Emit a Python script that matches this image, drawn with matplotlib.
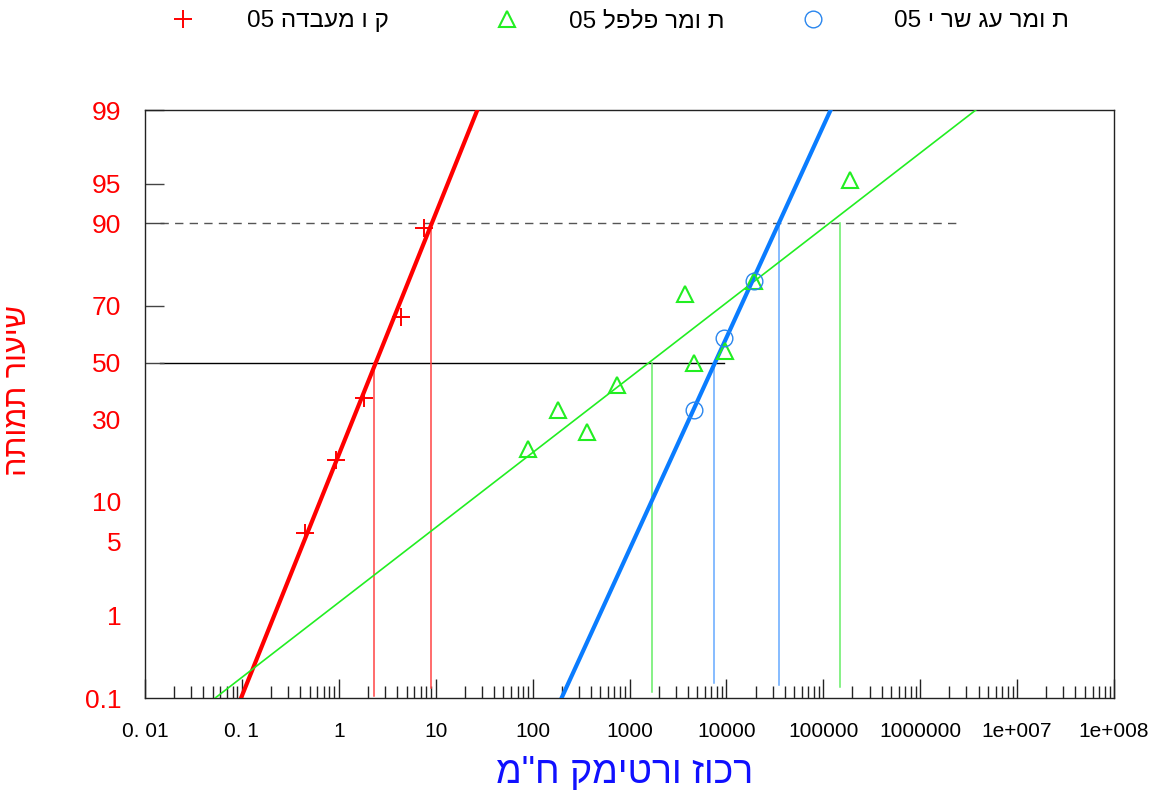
import re
from statistics import NormalDist

import numpy as np
import matplotlib
matplotlib.use("Agg")
import matplotlib.pyplot as plt
from matplotlib.ticker import NullFormatter, NullLocator, LogLocator

plt.rcParams['font.family'] = ['Liberation Sans', 'DejaVu Sans']

# ---- data ----
# lab line (red +)
lab_conc = [0.45, 0.93, 1.8, 4.4, 7.6]
lab_mort = [5.8, 18.4, 37.3, 66.2, 89.3]
# pepper field (green triangles)
pepper_conc = [90.6, 185, 368, 735, 3700, 4580, 9570, 19100, 187500]
pepper_mort = [21.3, 33.2, 26.1, 41.9, 73.6, 50.0, 54.4, 77.4, 95.4]
# field 2 (blue circles)
field_conc = [4580, 9350, 19100]
field_mort = [33.2, 58.8, 77.4]

# fitted probit lines: concentration at 0.1 % and at 99 %
lab_fit = [0.098, 26.9]
pepper_fit = [0.053, 3.75e6]
field_fit = [199, 119000]
fit_range = [0.1, 99]

# LC50 / LC90 drop lines and where they stop at the bottom (%)
lab_lc = [2.32, 9.0]
lab_lc_bottom = [0.108, 0.134]
pepper_lc = [1690, 147600]
pepper_lc_bottom = [0.122, 0.139]
field_lc = [7380, 34600]
field_lc_bottom = [0.16, 0.15]

ref_lines_x = [0.0143, 2.63e6]   # 90 % dashed guide
half_line_x = [0.0143, 9350]     # 50 % guide

labels = ["ק ו מעבדה 05", "ת ומר פלפל 05", "ת ומר עג שר י 05"]
xlabel = 'רכוז ורטימק ח"מ'
ylabel = "שיעור תמותה"

xticks = [0.01, 0.1, 1, 10, 100, 1000, 1e4, 1e5, 1e6, 1e7, 1e8]
xticklabels = ["0. 01", "0. 1", "1", "10", "100", "1000", "10000", "100000",
               "1000000", "1e+007", "1e+008"]
yticks = [0.1, 1, 5, 10, 30, 50, 70, 90, 95, 99]
yticklabels = ["0.1", "1", "5", "10", "30", "50", "70", "90", "95", "99"]


def visual(s):
    # no bidi in matplotlib: flip the order, keep digit runs as they are
    parts = re.findall(r"\d+|\D", s)
    return "".join(parts[::-1])


nd = NormalDist()
_ppf = np.vectorize(lambda v: nd.inv_cdf(v / 100.0), otypes=[float])
_cdf = np.vectorize(lambda v: 100.0 * nd.cdf(v), otypes=[float])


def prob_fwd(p):
    p = np.clip(np.asarray(p, dtype=float), 1e-6, 100 - 1e-6)
    return _ppf(p)


def prob_inv(z):
    return _cdf(np.asarray(z, dtype=float))


fig = plt.figure(figsize=(11.58, 7.94), dpi=100)
ax = fig.add_axes([145 / 1158, 1 - 698 / 794, (1114 - 145) / 1158, (698 - 110) / 794])
ax.set_xscale("log")
ax.set_yscale("function", functions=(prob_fwd, prob_inv))
ax.set_xlim(0.01, 1e8)
ax.set_ylim(0.1, 99)

# guide lines
ax.plot(ref_lines_x, [90, 90], ls=(0, (6, 4.5)), color="#555555", lw=1, zorder=1)
ax.plot(half_line_x, [50, 50], color="black", lw=1, zorder=1)

for lc, bot, col in [(lab_lc, lab_lc_bottom, "#ff4444"),
                     (pepper_lc, pepper_lc_bottom, "#66ee66"),
                     (field_lc, field_lc_bottom, "#66aaff")]:
    ax.plot([lc[0], lc[0]], [bot[0], 50], color=col, lw=1.1, zorder=2)
    ax.plot([lc[1], lc[1]], [bot[1], 90], color=col, lw=1.1, zorder=2)

# fitted lines
ax.plot(lab_fit, fit_range, color="#ff0000", lw=3, zorder=3)
ax.plot(pepper_fit, fit_range, color="#22ee22", lw=1.2, zorder=3)
ax.plot(field_fit, fit_range, color="#0a7cff", lw=3, zorder=3)

# observations
h1, = ax.plot(lab_conc, lab_mort, ls="none", marker="+", ms=13, mew=1.4,
              color="#ff0000", zorder=4)
h2, = ax.plot(pepper_conc, pepper_mort, ls="none", marker="^", ms=12, mew=1.5,
              mfc="none", mec="#22ee22", zorder=4)
h3, = ax.plot(field_conc, field_mort, ls="none", marker="o", ms=12, mew=1.0,
              mfc="none", mec="#2a86ee", zorder=4)

ax.set_xticks(xticks, xticklabels)
ax.xaxis.set_minor_locator(LogLocator(base=10, subs=np.arange(2, 10), numticks=100))
ax.xaxis.set_minor_formatter(NullFormatter())
ax.set_yticks(yticks, yticklabels)
ax.yaxis.set_minor_locator(NullLocator())
# only the upper probability ticks carry a mark
for t, v in zip(ax.yaxis.get_major_ticks(), yticks):
    if v < 50:
        t.tick1line.set_visible(False)

ax.tick_params(axis="x", which="major", direction="in", length=14, width=1,
               labelsize=15, pad=17.5, colors="#222222", labelcolor="black")
ax.tick_params(axis="x", which="minor", direction="in", length=9, width=1,
               colors="#222222")
ax.tick_params(axis="y", which="major", direction="in", length=14, width=1,
               labelsize=19, pad=17, colors="#444444", labelcolor="#ff0000")
for sp in ax.spines.values():
    sp.set_linewidth(1)
    sp.set_color("#222222")

fig.text(625 / 1158, 1 - 773 / 794, visual(xlabel), fontsize=27, color="#1010ff",
         ha="center", va="center")
fig.text(18 / 1158, 1 - 390 / 794, visual(ylabel), fontsize=22, color="#ff0000",
         ha="center", va="center", rotation=90)

# legend entries across the top, one per series
leg_x = [161, 485, 791]       # left edge of each entry, px
leg_pad = [1.75, 1.65, 2.45]  # gap marker -> text, in font sizes
for h, lab, x0, pad in zip([h1, h2, h3], labels, leg_x, leg_pad):
    lg = fig.legend([h], [visual(lab)], loc="center left",
                    bbox_to_anchor=(x0 / 1158, 1 - 21 / 794), frameon=False,
                    fontsize=17.5, handletextpad=pad, handlelength=1.8,
                    borderpad=0, borderaxespad=0)

fig.savefig("out.png", dpi=100)
